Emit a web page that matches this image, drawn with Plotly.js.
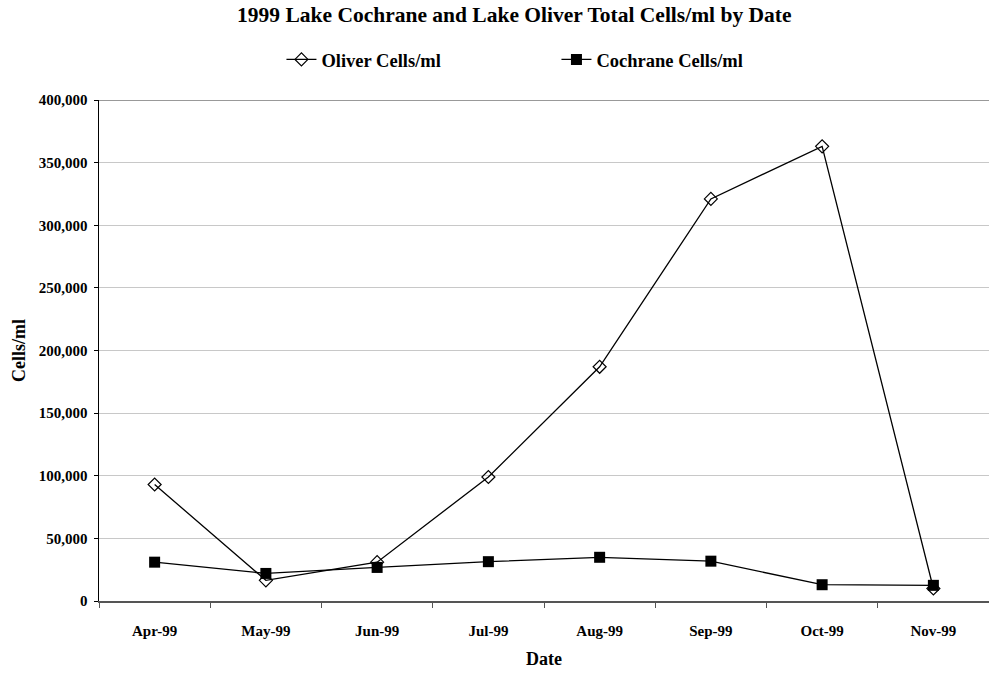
<!DOCTYPE html>
<html>
<head>
<meta charset="utf-8">
<script src="https://cdn.plot.ly/plotly-3.0.1.min.js"></script>
<style>html,body{margin:0;padding:0;background:#fff;}#chart{width:989px;height:675px;}</style>
</head>
<body>
<div id="chart"></div>
<script>
const dates = ["Apr-99","May-99","Jun-99","Jul-99","Aug-99","Sep-99","Oct-99","Nov-99"];
const oliver = [93000, 16500, 31000, 99000, 187000, 321000, 363000, 10000];
const cochrane = [31000, 22000, 26800, 31400, 34900, 31800, 13000, 12500];
const yTicks = [0, 50000, 100000, 150000, 200000, 250000, 300000, 350000, 400000];
const yTickLabels = ["0","50,000","100,000","150,000","200,000","250,000","300,000","350,000","400,000"];

const font = {family: "Liberation Serif, Times New Roman, serif", color: "#000"};

const traces = [
  {
    x: dates, y: oliver, name: "<b>Oliver Cells/ml</b>", type: "scatter", mode: "lines+markers",
    line: {color: "#000", width: 1.3},
    marker: {symbol: "diamond-open", size: 10, color: "#000", line: {width: 1.2, color: "#000"}}
  },
  {
    x: dates, y: cochrane, name: "<b>Cochrane Cells/ml</b>", type: "scatter", mode: "lines+markers",
    line: {color: "#000", width: 1.3},
    marker: {symbol: "square", size: 11, color: "#000"}
  }
];

const layout = {
  width: 989, height: 675,
  margin: {l: 99, r: 0, t: 100, b: 74},
  paper_bgcolor: "#fff", plot_bgcolor: "#fff",
  font: Object.assign({}, font, {size: 15}),
  title: {text: "<b>1999 Lake Cochrane and Lake Oliver Total Cells/ml by Date</b>",
          font: Object.assign({}, font, {size: 21.5}), x: 0.52, xref: "container", xanchor: "center",
          y: 0.979, yanchor: "middle"},
  showlegend: true,
  legend: {orientation: "h", x: 0.205, xanchor: "left", y: 1.08, yanchor: "middle",
           font: Object.assign({}, font, {size: 18.5}), entrywidth: 230, entrywidthmode: "pixels",
           itemwidth: 30, bgcolor: "rgba(0,0,0,0)"},
  xaxis: {
    type: "category", range: [-0.5, 7.5], fixedrange: true,
    showline: true, linecolor: "#555", linewidth: 2,
    ticks: "outside", tickson: "boundaries", ticklen: 5, tickcolor: "#555", tickwidth: 1,
    showgrid: false, zeroline: false,
    tickfont: Object.assign({}, font, {size: 15}), ticklabelstandoff: 15,
    tickprefix: "<b>", ticksuffix: "</b>",
    title: {text: "<b>Date</b>", font: Object.assign({}, font, {size: 18}), standoff: 14}
  },
  yaxis: {
    range: [0, 400000], tickvals: yTicks, ticktext: yTickLabels.map(t => "<b>" + t + "</b>"),
    showline: true, linecolor: "#000", linewidth: 1.5,
    ticks: "outside", ticklen: 4, tickcolor: "#000",
    showgrid: true, gridcolor: "#c8c8c8", gridwidth: 1, zeroline: false,
    tickfont: Object.assign({}, font, {size: 15}), ticklabelstandoff: 3,
    title: {text: "<b>Cells/ml</b>", font: Object.assign({}, font, {size: 18}), standoff: 8}
  },
  shapes: [
    {type: "line", xref: "paper", yref: "y", x0: 0, x1: 1, y0: 400000, y1: 400000,
     line: {color: "#999", width: 2}}
  ]
};

Plotly.newPlot("chart", traces, layout, {displayModeBar: false, staticPlot: true});
</script>
</body>
</html>
